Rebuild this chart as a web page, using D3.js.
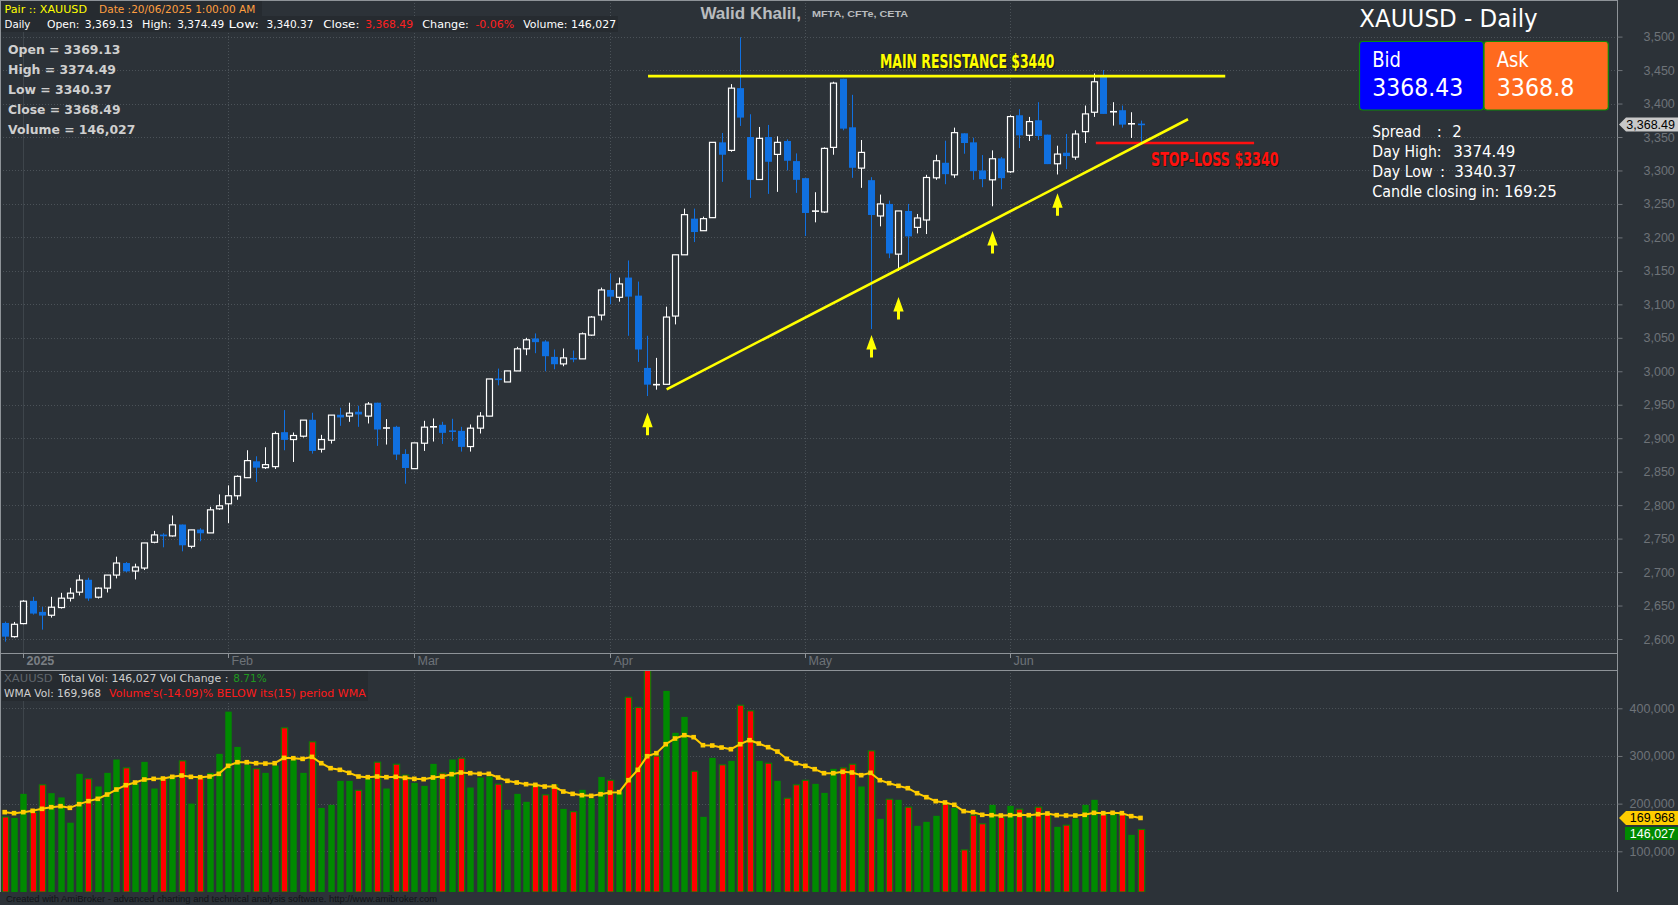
<!DOCTYPE html>
<html><head><meta charset="utf-8">
<script src="https://cdn.jsdelivr.net/npm/d3@7"></script>
<style>html,body{margin:0;padding:0;background:#2c3238;overflow:hidden}</style>
</head><body><svg id="c" width="1678" height="905"></svg>
<script>
// ---------------- DATA ----------------
const openP=[2624,2603.5,2623,2657,2640.5,2635.5,2647,2661,2670,2688.5,
2662.5,2676,2695.5,2713.5,2701.5,2706,2744.5,2756,2754,2771,
2738.5,2763.5,2758.5,2794.5,2802,2814,2841,2865.5,2856,2857.5,
2909,2898,2903,2927.5,2883.5,2897,2935,2933,2939.5,2933,
2953,2915,2917,2876.5,2854.5,2892.5,2916.5,2920,2911,2911,
2887.5,2915,2933,2988.5,2984,3000.5,3033.5,3049,3044.5,3021.5,
3011,3019,3018.5,3054,3084,3121.5,3110.5,3140,3113,3005,
2980,2980.5,3082.5,3174,3228,3210,3229.5,3342,3330,3423,
3350,3286.5,3350,3324,3344,3314,3288.5,3239,3238,3334.5,
3437,3364.5,3303.5,3285.5,3232,3250,3175,3239.5,3215,3226,
3289,3311.5,3293.5,3355.5,3342,3300,3286,3318,3298,3382.5,
3352.5,3375,3353.5,3310,3326.5,3320,3358,3387,3440,3387.5,
3390,3369.5,3369.13];
const highP=[2626,2625.5,2658,2663,2648,2663,2669,2676.5,2696,2691.5,
2677,2695.5,2723,2715,2712.5,2743.5,2761.5,2758,2784.5,2771,
2763,2765.5,2797.5,2816,2829.5,2844.5,2882,2873,2886.5,2910,
2942,2908.5,2927,2938,2905,2934.5,2945.5,2953,2948.5,2954,
2953,2928.5,2918.5,2883.5,2893,2926,2929.5,2924.5,2929,2917,
2920.5,2939,2988.5,3004,3000.5,3036.5,3050,3056.5,3046.5,3032.5,
3034,3031,3058,3082.5,3125,3146,3140,3165.5,3134,3053,
3020,3096.5,3174,3243,3243,3231,3342,3356,3429,3499,
3384,3365,3368,3351,3346.5,3325.5,3288.5,3267.5,3334.5,3432.5,
3437,3413,3345.5,3290,3264,3255,3239.5,3250,3235,3293.5,
3323.5,3344.5,3364,3355.5,3349,3323,3330,3320,3382.5,3391.5,
3380,3402,3353.5,3337,3354.5,3360,3397,3445,3450,3402,
3397,3387,3374.49];
const lowP=[2596,2602,2622,2636.5,2614,2632,2645.5,2656,2665,2657,
2660.5,2669.5,2690.5,2699.5,2689,2703,2743,2737,2753,2731,
2735.5,2746,2758.5,2793,2773,2808,2841,2834.5,2854,2854,
2882,2864.5,2901,2877,2878.5,2892,2918.5,2924.5,2917,2922,
2888.5,2890.5,2867.5,2832,2854.5,2881,2895,2891.5,2896,2880,
2880,2907,2933,2979,2984,3000.5,3024,3027,3000,3003,
3007.5,3013.5,3018.5,3053,3076,3100,3104,3053,3014,2963,
2972.5,2980.5,3070,3174,3193,3210,3229.5,3283,3328,3366.5,
3259,3286.5,3265,3268,3300,3266.5,3202,3222.5,3236.5,3323.5,
3360,3289,3274,3063,3216.5,3169,3150,3159,3206,3205,
3286,3279.5,3289,3325,3286,3275,3246.5,3272,3296.5,3333.5,
3344,3345.5,3309.5,3294,3302,3316,3341,3380,3384.5,3367,
3364,3348.5,3340.37];
const closeP=[2603.5,2622,2656.5,2638,2635,2647.5,2661,2668.5,2688,2660.5,
2676,2695.5,2713.5,2701,2707.5,2743.5,2755.5,2753.5,2770.5,2740,
2763,2758,2793,2799,2814,2843,2866.5,2856,2860.5,2907,
2897.5,2904,2927,2881,2898,2934.5,2931,2937.5,2935.5,2951,
2913,2915.5,2875.5,2855.5,2893,2916.5,2917.5,2908,2910,2887,
2915,2933,2988.5,2987.5,3000.5,3033.5,3047,3043.5,3022.5,3010.5,
3020,3018.5,3056,3081,3121.5,3111.5,3130.5,3111.5,3032.5,2980,
2980,3081,3174,3234,3208,3228,3342,3323.5,3423,3379,
3286,3348,3313,3342,3314.5,3286,3236.5,3239.5,3333,3430.5,
3362.5,3304,3327,3233.5,3250,3176,3239.5,3201.5,3229,3289.5,
3314.5,3294.5,3356.5,3341,3299,3287,3317.5,3288.5,3380.5,3352.5,
3373,3351.5,3309.5,3324.5,3321.5,3354.5,3384.5,3432.5,3384.5,3388,
3368.5,3370,3368.49];
// volume (thousands)
const volumeK=[172,170,220.5,182,239.4,222,213,160,262.5,252,
236,264.6,292.5,275,242,287.6,231.7,254.8,259.7,289.7,
200,254,264.6,304.4,393,319,281.3,273,264.6,280,
359,292,264.6,329.6,191,197.5,247.8,247.8,228,252,
287,231.7,282.7,259.7,243.6,237.3,283.4,263.9,292.5,295.3,
233.8,254.8,257,240.8,187,220.5,203.8,238.7,218.4,239.4,
189,183,229,210.7,256,249,225.4,423.2,402,482,
300,436.5,348.5,382,268,172.3,296,281.3,289.7,406.5,
394.6,289.7,284.8,247.8,211.4,239.4,249,241.5,222.6,273,
275,282.7,236,310.7,168,209.3,208,192.6,153.4,161.8,
174.4,199.6,191,103,175.8,157.6,197.5,171.6,195.4,188.4,
173,192.6,177.2,151.3,154.8,168.8,197.5,208,177.2,180,
177.2,134.5,146.027];
// volume bar colour: g = up, r = down
const volDir="rggrrggggr"+"gggrgggrgr"+"grgggggrgg"+"rggrggggrg"+"rgrrgggrgr"+"gggrgggrrr"+"grgggrgrrr"+"rgggrggrgr"+"rgrgrrrggg"+"rrgrgrgrgg"+"grgrrrgrgr"+"grrgrgggrg"+"rgr";
// 15-period WMA of volume (thousands)
const wmaK=[182.1,180,182.1,184.9,189.1,192.6,194.7,191.2,198.9,205.2,
210.1,219.1,229.6,238.7,244.3,250.6,252,252.7,256.2,259,
256.2,255.5,256.9,262.5,279.3,286.9,286.9,284.8,284.1,284.8,
296,295.3,293.9,298.1,284.8,274.4,270.9,264.6,256.9,255.5,
256.9,255.5,256.2,254.1,252,251.3,254.8,256.9,261.8,265.3,
263.9,262.5,262.5,254.8,247.8,244.3,240.8,239.4,235.9,235.9,
225.4,220.5,217.7,216.3,219.8,223.3,224,249.2,270.9,299.5,
305.8,324.7,336.6,343.6,339.4,322.6,321.9,317.7,314.2,324.7,
333.1,326.1,318.4,309.3,293.9,284.8,279.2,272.3,263.9,263.9,
266.7,265.3,259.7,264.6,249.2,242.9,237.3,232.4,221.9,213.5,
205.2,202.4,197.5,184.2,182.1,176.5,175.8,175.1,175.8,176.5,
175.8,177.9,179.3,175.8,175.1,175.1,176.5,180.7,180,180.7,
180,173.7,169.968];
const priceTicks=[2600,2650,2700,2750,2800,2850,2900,2950,3000,3050,3100,3150,3200,3250,3300,3350,3400,3450,3500];
const volTicks=[100000,200000,300000,400000];
const holidays=["2025-01-01","2025-04-18"];
// annotations
const resistance={i0:69.1,i1:131.1,p:3441};
const stopLoss={i0:117.2,i1:134.2,p:3341};
const trend={i0:71.1,p0:2973,i1:127.1,p1:3376.5};
const arrowIdx=[69,93,96,106,113];
const arrowTip=[2938,3054,3111,3209.5,3266];
const lastClose=3368.49, lastVol=146027, lastWma=169968;

// ---------------- BUILD ----------------
const fmt=d3.timeFormat("%Y-%m-%d");
const dates=[];
for(let d=new Date(2024,11,30); d<=new Date(2025,5,20); d=new Date(d.getFullYear(),d.getMonth(),d.getDate()+1)){
  const wd=d.getDay(); if(wd===0||wd===6) continue;
  if(holidays.includes(fmt(d))) continue;
  dates.push(d);
}
const N=closeP.length;
const svg=d3.select("#c");
const BG="#2c3238", PANE_R=1617, P_BOT=653, V_TOP=670, V_BOT=892;
const x=d3.scaleLinear().domain([0,N-1]).range([4.7,4.7+9.31*(N-1)]);
const y=d3.scaleLinear().domain([2600,3500]).range([639,36.6]);
const yv=d3.scaleLinear().domain([100000,400000]).range([851.3,708.3]);
const SANS="DejaVu Sans, Liberation Sans, sans-serif";
const ARIAL="Liberation Sans, Arial, sans-serif";

svg.append("rect").attr("width",1678).attr("height",905).attr("fill",BG);

function T(g,xx,yb,s,o={}){
  const t=g.append("text").attr("x",xx).attr("y",yb).text(s)
   .attr("font-family",o.ff||SANS).attr("font-size",o.fs||11).attr("fill",o.fill||"#fff");
  if(o.fw) t.attr("font-weight",o.fw);
  if(o.w) t.attr("textLength",o.w).attr("lengthAdjust","spacingAndGlyphs");
  if(o.anchor) t.attr("text-anchor",o.anchor);
  return t;
}

// clip paths
const defs=svg.append("defs");
defs.append("clipPath").attr("id","cp").append("rect").attr("x",0).attr("y",0).attr("width",PANE_R).attr("height",P_BOT);
defs.append("clipPath").attr("id","cv").append("rect").attr("x",0).attr("y",V_TOP+1).attr("width",PANE_R).attr("height",V_BOT-V_TOP-1);

// grid
const grid=svg.append("g");
grid.selectAll("line.hp").data(priceTicks).join("line")
 .attr("x1",0).attr("x2",PANE_R).attr("y1",d=>Math.round(y(d))+0.5).attr("y2",d=>Math.round(y(d))+0.5)
 .attr("stroke","#4b5258").attr("stroke-dasharray","1,2");
grid.selectAll("line.hv").data(volTicks).join("line")
 .attr("x1",0).attr("x2",PANE_R).attr("y1",d=>Math.round(yv(d))+0.5).attr("y2",d=>Math.round(yv(d))+0.5)
 .attr("stroke","#4b5258").attr("stroke-dasharray","1,2");
const monthIdx=[];
for(let i=1;i<N;i++) if(dates[i].getMonth()!==dates[i-1].getMonth()) monthIdx.push(i);
monthIdx.forEach(i=>{
  const xx=Math.round(x(i))+0.5, yr=dates[i].getMonth()===0;
  [[0,P_BOT],[V_TOP,V_BOT]].forEach(([a,b])=>{
    grid.append("line").attr("x1",xx).attr("x2",xx).attr("y1",a).attr("y2",b)
      .attr("stroke",yr?"#3e454b":"#4b5258").attr("stroke-dasharray",yr?null:"1,2");
  });
});

// header backgrounds
svg.append("rect").attr("x",0).attr("y",0).attr("width",262).attr("height",16).attr("fill","#262b30");
svg.append("rect").attr("x",0).attr("y",16).attr("width",618).attr("height",16).attr("fill","#262b30");
svg.append("rect").attr("x",2).attr("y",671).attr("width",366).attr("height",30).attr("fill","#262b30");

// candles
const cg=svg.append("g").attr("clip-path","url(#cp)");
const BLUE="#1070e0";
d3.range(N).forEach(i=>{
  const o=openP[i],c=closeP[i],h=highP[i],l=lowP[i];
  const up=c>=o, col=up?"#ffffff":BLUE;
  const cx=Math.round(x(i))+0.5;
  cg.append("line").attr("x1",cx).attr("x2",cx).attr("y1",y(h)).attr("y2",y(l)).attr("stroke",col).attr("stroke-width",1);
  const yt=y(Math.max(o,c)), yb=y(Math.min(o,c));
  if(yb-yt<1.6){
    cg.append("line").attr("x1",cx-3.5).attr("x2",cx+3.5).attr("y1",(yt+yb)/2).attr("y2",(yt+yb)/2).attr("stroke",col).attr("stroke-width",1.6);
  } else if(up){
    cg.append("rect").attr("x",cx-3).attr("y",yt).attr("width",6).attr("height",yb-yt)
      .attr("fill",BG).attr("stroke","#ffffff").attr("stroke-width",1.2);
  } else {
    cg.append("rect").attr("x",cx-3.5).attr("y",yt).attr("width",7).attr("height",yb-yt).attr("fill",BLUE);
  }
});

// annotations
const ag=svg.append("g").attr("clip-path","url(#cp)");
ag.append("line").attr("x1",x(resistance.i0)).attr("x2",x(resistance.i1)).attr("y1",y(resistance.p)).attr("y2",y(resistance.p))
  .attr("stroke","#ffff00").attr("stroke-width",2.6);
ag.append("line").attr("x1",x(stopLoss.i0)).attr("x2",x(stopLoss.i1)).attr("y1",y(stopLoss.p)).attr("y2",y(stopLoss.p))
  .attr("stroke","#ff1010").attr("stroke-width",2.6);
ag.append("line").attr("x1",x(trend.i0)).attr("x2",x(trend.i1)).attr("y1",y(trend.p0)).attr("y2",y(trend.p1))
  .attr("stroke","#ffff00").attr("stroke-width",2.6);
arrowIdx.forEach((i,k)=>{
  const ax=Math.round(x(i))+0.5, ty=y(arrowTip[k]);
  ag.append("path").attr("d",`M${ax},${ty} L${ax+5.2},${ty+14.5} L${ax+1.5},${ty+14.5} L${ax+1.5},${ty+22.5} L${ax-1.5},${ty+22.5} L${ax-1.5},${ty+14.5} L${ax-5.2},${ty+14.5} Z`)
    .attr("fill","#ffff00");
});
function shadowText(xx,yb,s,fill,w,fs){
  const ff="Liberation Sans Narrow, DejaVu Sans Condensed, Liberation Sans, sans-serif";
  T(svg,xx+1.2,yb+1.2,s,{ff,fs,fw:"bold",fill:"#15181b",w}).attr("font-stretch","condensed");
  T(svg,xx,yb,s,{ff,fs,fw:"bold",fill,w}).attr("font-stretch","condensed")
    .attr("stroke","#3a3a10").attr("stroke-width",0.6).attr("paint-order","stroke");
}
shadowText(880,68.2,"MAIN RESISTANCE $3440","#ffff00",174.5,19.5);
shadowText(1151,165.8,"STOP-LOSS $3340","#ff1010",127.6,19);

// volume bars
const vg=svg.append("g").attr("clip-path","url(#cv)");
d3.range(N).forEach(i=>{
  const v=volumeK[i]*1000, up=volDir[i]==="g";
  const cx=Math.round(x(i))+0.5;
  vg.append("rect").attr("x",cx-3.2).attr("y",yv(v)).attr("width",6.4).attr("height",V_BOT-yv(v))
    .attr("fill",up?"#008a00":"#ff0000").attr("stroke",up?"none":"#008a00").attr("stroke-width",1);
});
const wmaLine=d3.line().x((d,i)=>x(i)).y(d=>yv(d*1000));
vg.append("path").attr("d",wmaLine(wmaK)).attr("fill","none").attr("stroke","#ffcc00").attr("stroke-width",2);
vg.selectAll("rect.m").data(wmaK).join("rect").attr("x",(d,i)=>x(i)-2.3).attr("y",d=>yv(d*1000)-2.3)
  .attr("width",4.6).attr("height",4.6).attr("fill","#ffcc00");

// frame lines
const fr=svg.append("g").attr("stroke","#8e9398").attr("stroke-width",1);
fr.append("line").attr("x1",0).attr("x2",PANE_R).attr("y1",0.5).attr("y2",0.5);
fr.append("line").attr("x1",0.5).attr("x2",0.5).attr("y1",0).attr("y2",V_BOT);
fr.append("line").attr("x1",0).attr("x2",PANE_R).attr("y1",P_BOT+0.5).attr("y2",P_BOT+0.5);
fr.append("line").attr("x1",0).attr("x2",PANE_R).attr("y1",V_TOP+0.5).attr("y2",V_TOP+0.5);
fr.append("line").attr("x1",PANE_R+0.5).attr("x2",PANE_R+0.5).attr("y1",0).attr("y2",V_BOT);

// axes
const AXC="#6e7378";
const pa=svg.append("g").attr("transform",`translate(${PANE_R+0.5},0)`)
  .call(d3.axisRight(y).tickValues(priceTicks).tickFormat(d3.format(",")).tickSize(5).tickPadding(21));
const va=svg.append("g").attr("transform",`translate(${PANE_R+0.5},0)`)
  .call(d3.axisRight(yv).tickValues(volTicks).tickFormat(d3.format(",")).tickSize(5).tickPadding(7));
[pa,va].forEach(a=>{
  a.select(".domain").remove();
  a.selectAll("line").attr("stroke",AXC);
  a.selectAll("text").attr("fill",AXC).attr("font-family",ARIAL).attr("font-size",12.5);
});
// date labels
const mfmt=d3.timeFormat("%b");
monthIdx.forEach(i=>{
  const xx=Math.round(x(i))+0.5, yr=dates[i].getMonth()===0;
  svg.append("line").attr("x1",xx).attr("x2",xx).attr("y1",P_BOT).attr("y2",P_BOT+5).attr("stroke","#8e9398");
  T(svg,xx+3,665,yr?String(dates[i].getFullYear()):mfmt(dates[i]),{ff:ARIAL,fs:12.5,fill:yr?"#7a7f84":AXC,fw:yr?"bold":null});
});

// last value markers
function marker(yy,label,fill,tc,arrow,x0){
  if(arrow) svg.append("path").attr("d",`M1619,${yy} L1626,${yy-7} L1678,${yy-7} L1678,${yy+7} L1626,${yy+7} Z`).attr("fill",fill);
  else svg.append("rect").attr("x",x0).attr("y",yy-6.5).attr("width",1678-x0).attr("height",13).attr("fill",fill);
  T(svg,1675,yy+4.5,label,{ff:ARIAL,fs:12.5,fill:tc,anchor:"end"});
}
marker(y(lastClose),d3.format(",.2f")(lastClose),"#c8c8c8","#000",true);
marker(yv(lastWma),d3.format(",")(lastWma),"#ffcc00","#000",true);
marker(yv(lastWma)+15.5,d3.format(",")(lastVol),"#008a00","#fff",false,1625);

// header text
T(svg,4.5,12.7,"Pair :: XAUUSD",{fs:10.5,fill:"#ffff00",w:82.5});
T(svg,99.1,12.7,"Date :20/06/2025 1:00:00 AM",{fs:10.5,fill:"#ff9f40",w:156.3});
[[4.5,"Daily",25.9,"#fff"],[46.9,"Open:",32.6,"#fff"],[84.8,"3,369.13",48.2,"#fff"],[142,"High:",29.4,"#fff"],
 [177.2,"3,374.49",46.9,"#fff"],[228.6,"Low:",30.4,"#fff"],[266.5,"3,340.37",46.9,"#fff"],[323.2,"Close:",36.2,"#fff"],
 [365.2,"3,368.49",47.8,"#ff2020"],[422.3,"Change:",46.5,"#fff"],[475.4,"-0.06%",38.9,"#ff2020"],[523.2,"Volume: 146,027",92.9,"#fff"]]
 .forEach(([xx,s,w,f])=>T(svg,xx,27.7,s,{fs:10.5,fill:f,w}));
[["Open = 3369.13",112.5],["High = 3374.49",108],["Low = 3340.37",103.6],["Close = 3368.49",112.5],["Volume = 146,027",127.3]]
 .forEach(([s,w],k)=>T(svg,8,54.3+k*20,s,{fs:13,fw:"bold",fill:"#cfcfcf",w}));
T(svg,700.4,19,"Walid Khalil,",{ff:ARIAL,fs:17,fw:"bold",fill:"#b9bcbf",w:100.6});
T(svg,812,16.7,"MFTA, CFTe, CETA",{ff:ARIAL,fs:8.5,fw:"bold",fill:"#b9bcbf",w:96});

// right panel
T(svg,1359.3,26.7,"XAUUSD - Daily",{fs:24.5,fill:"#fff",w:178.4});
svg.append("rect").attr("x",1359.5).attr("y",41.5).attr("width",124).attr("height",68.5).attr("rx",3)
  .attr("fill","#0000ff").attr("stroke","#0a8a0a").attr("stroke-width",1.2);
svg.append("rect").attr("x",1484).attr("y",41.5).attr("width",124.3).attr("height",68.5).attr("rx",3)
  .attr("fill","#ff6a1e").attr("stroke","#0a8a0a").attr("stroke-width",1.2);
T(svg,1372.3,66.7,"Bid",{fs:20.5,fill:"#fff",w:28.7});
T(svg,1372.3,95.7,"3368.43",{fs:24,fill:"#fff",w:91});
T(svg,1496.7,66.7,"Ask",{fs:20.5,fill:"#fff",w:32});
T(svg,1496.7,95.7,"3368.8",{fs:24,fill:"#fff",w:77.7});
[[137,"Spread",48.7,1436.7,":",1452.3,"2"],[157,"Day High:",69.3,null,null,1453.3,"3374.49"],
 [177,"Day Low",60.3,1440,":",1454.3,"3340.37"],[197,"Candle closing in:",127,null,null,1504,"169:25"]]
 .forEach(([yb,lab,w,cx,cs,vx,vs])=>{
   T(svg,1372.3,yb,lab,{fs:15,fill:"#fff",w});
   if(cs) T(svg,cx,yb,cs,{fs:15,fill:"#fff"});
   T(svg,vx,yb,vs,{fs:15,fill:"#fff"});
 });

// volume header
T(svg,4,681.7,"XAUUSD",{fs:11,fill:"#60666c",w:48.7});
T(svg,59.3,681.7,"Total Vol: 146,027 Vol Change :",{fs:11,fill:"#d0d0d0",w:169});
T(svg,233.3,681.7,"8.71%",{fs:11,fill:"#1f9a1f",w:33.4});
T(svg,4,696.7,"WMA Vol: 169,968",{fs:11,fill:"#d0d0d0",w:97});
T(svg,109,696.7,"Volume's(-14.09)% BELOW its(15) period WMA",{fs:11,fill:"#ff1a1a",w:256.7});

// footer
T(svg,6,901.5,"Created with AmiBroker - advanced charting and technical analysis software. http://www.amibroker.com",{ff:ARIAL,fs:9.5,fill:"#111417",w:431});
</script></body></html>
